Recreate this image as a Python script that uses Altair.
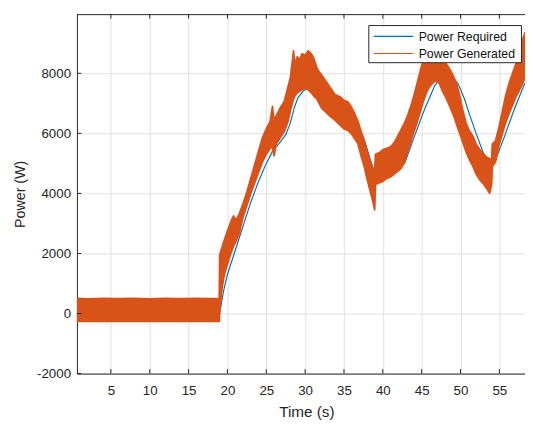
import altair as alt
import pandas as pd

# ---------------- data ----------------
# Power Required (blue line)
t_req = [0.63, 19.0, 19.5, 20.0, 21.0, 22.0, 23.0, 24.0, 25.0, 25.8, 26.6, 27.5, 28.1,
         28.6, 29.1, 29.8, 30.5, 31.3, 32.5, 34.0, 35.5, 36.8, 37.6, 38.3, 38.9, 39.4,
         40.0, 41.0, 42.0, 42.8, 44.0, 45.3, 46.7, 47.5, 48.2, 49.0, 49.7, 50.5, 51.2,
         52.0, 52.9, 53.5, 54.0, 54.5, 55.0, 55.6, 56.3, 57.0, 57.7, 58.3]
p_req = [0, 0, 750, 1300, 2100, 2900, 3700, 4400, 5000, 5400, 5650, 5950, 6350,
         6850, 7200, 7420, 7560, 7620, 7450, 7100, 6750, 6350, 5800, 5200, 4720, 4620,
         4650, 4750, 4850, 5000, 5850, 6750, 7600, 7850, 7900, 7850, 7650, 7150, 6600,
         6000, 5370, 5100, 4980, 5100, 5450, 5850, 6360, 6850, 7300, 7680]

# Power Generated (noisy band: upper and lower envelope)
t_gen = [0.63, 2, 4, 6, 8, 10, 12, 14, 16, 18, 18.95,
         19.0, 19.3, 19.6, 20.0, 20.5, 20.8, 21.1, 21.5, 22.0, 22.5, 23.0, 23.5, 24.0,
         24.5, 25.0, 25.5, 25.8, 26.0, 26.3, 26.8, 27.3, 27.8, 28.1, 28.35, 28.5, 28.7,
         29.0, 29.3, 29.6, 30.0, 30.4, 30.8, 31.1, 31.5,
         31.8, 32.1, 32.5, 32.9, 33.3, 33.8, 34.2, 34.6, 35.0, 35.5, 35.9, 36.3, 36.8,
         37.2, 37.6, 38.0, 38.4, 38.7, 38.95,
         39.05, 39.5, 40.0, 40.5, 41.0, 41.5, 42.0, 42.4, 42.8, 43.2, 43.6, 44.0, 44.4,
         44.8, 45.2, 45.6, 46.0, 46.5, 46.9, 47.3,
         47.7, 48.2, 48.7, 49.1, 49.5, 49.9, 50.3, 50.7, 51.1, 51.6, 52.0, 52.5, 53.0,
         53.4, 53.75, 54.0, 54.1,
         54.5, 54.9, 55.4, 55.8, 56.3, 56.7, 57.1, 57.5, 57.9, 58.3]
gen_hi = [500, 490, 505, 495, 500, 490, 505, 495, 500, 495, 500,
          1950, 2200, 2450, 2750, 3100, 3250, 3100, 3300, 3650, 4050, 4500, 4950, 5400,
          5850, 6150, 6400, 6900, 6400, 6600, 6850, 7050, 7550, 7850, 8400, 8750, 8300,
          8550, 8450, 8650, 8600, 8750, 8650, 8500, 8200,
          8050, 7950, 7800, 7650, 7500, 7300, 7250, 7200, 7100, 7050, 6900, 6700, 6400,
          6050, 5750, 5400, 5050, 4850, 4750,
          5300, 5350, 5450, 5500, 5550, 5700, 5950, 6150, 6350, 6600, 6900, 7250, 7650,
          8050, 8450, 8800, 8900, 8850, 8850, 8700,
          8550, 8300, 8100, 7900, 7650, 7250, 6750, 6350, 6100, 5900, 5650, 5450, 5300,
          5200, 5150, 5150, 5650,
          5750, 6150, 6750, 7250, 7700, 8000, 8300, 8700, 9050, 9350]
gen_lo = [-260, -255, -265, -258, -262, -255, -265, -258, -262, -258, -260,
          50, 850, 1300, 1650, 2050, 2250, 2400, 2650, 3200, 3600, 4000, 4350, 4700,
          5050, 5300, 5500, 5550, 5250, 5650, 5850, 6050, 6400, 6750, 7000, 7150, 7250,
          7350, 7400, 7450, 7500, 7450, 7350, 7250, 7150,
          7000, 6850, 6750, 6650, 6550, 6450, 6350, 6250, 6150, 6100, 6000, 5850, 5650,
          5250, 4900, 4450, 4050, 3750, 3450,
          4300, 4350, 4400, 4500, 4550, 4650, 4750, 4850, 5050, 5400, 5700, 6050, 6350,
          6700, 7050, 7350, 7550, 7700, 7750, 7650,
          7400, 7150, 6850, 6600, 6300, 6000, 5700, 5400, 5150, 4900, 4650, 4450, 4300,
          4150, 4000, 4300, 4900,
          5050, 5550, 6000, 6350, 6700, 6950, 7200, 7400, 7600, 7850]

x_ticks = [5, 10, 15, 20, 25, 30, 35, 40, 45, 50, 55]
y_ticks = [-2000, 0, 2000, 4000, 6000, 8000]
legend_labels = ["Power Required", "Power Generated"]
series_colors = ["#0072BD", "#D95319"]

# ---------------- chart ----------------
X_DOMAIN = [0.63, 58.3]
Y_DOMAIN = [-2000, 9970]
W, H = 455, 365
INK = "#262626"
FONT = "Liberation Sans"

xs = alt.Scale(domain=X_DOMAIN, nice=False, zero=False)
ys = alt.Scale(domain=Y_DOMAIN, nice=False, zero=False)

req_df = pd.DataFrame({"t": t_req, "p": p_req})
gen_df = pd.DataFrame({"t": t_gen, "hi": gen_hi, "lo": gen_lo})
xt_df = pd.DataFrame({"t": x_ticks})
yt_df = pd.DataFrame({"p": y_ticks})
leg_df = pd.DataFrame({"label": legend_labels, "color": series_colors})

x_axis = alt.Axis(values=x_ticks, title="Time (s)", ticks=False, grid=True,
                  labelPadding=10, titlePadding=8, titleX=233, titleFontSize=15.5,
                  labelExpr="datum.value + ''")
y_axis = alt.Axis(values=y_ticks, title="Power (W)", ticks=False, grid=True,
                  labelPadding=6.5, titlePadding=9, titleFontSize=14.5,
                  labelExpr="datum.value + ''")


def X(field):
    return alt.X(field, scale=xs, axis=x_axis)


def Y(field):
    return alt.Y(field, scale=ys, axis=y_axis)


req_line = alt.Chart(req_df).mark_line(color=series_colors[0], strokeWidth=1.2, clip=True).encode(
    x=X("t:Q"), y=Y("p:Q"))

gen_area = alt.Chart(gen_df).mark_area(
    color=series_colors[1], opacity=1, clip=True,
    stroke=series_colors[1], strokeWidth=1.8, strokeJoin="round"
).encode(x=X("t:Q"), y=Y("hi:Q"), y2="lo:Q")

tick_len = 4.5
x_ticks_bottom = alt.Chart(xt_df).mark_rule(color=INK, strokeWidth=1).encode(
    x=X("t:Q"), y=alt.value(H), y2=alt.value(H - tick_len))
x_ticks_top = alt.Chart(xt_df).mark_rule(color=INK, strokeWidth=1).encode(
    x=X("t:Q"), y=alt.value(0), y2=alt.value(tick_len))
y_ticks_left = alt.Chart(yt_df).mark_rule(color=INK, strokeWidth=1).encode(
    y=Y("p:Q"), x=alt.value(0), x2=alt.value(tick_len))

top_border = alt.Chart(leg_df.head(1)).mark_rule(color=INK, strokeWidth=1).encode(
    x=alt.value(0), x2=alt.value(W), y=alt.value(0.5))

# legend box (top right, inside the plot)
LX, LY, LW, LH = 296.4, 11.6, 155, 37.7
legend_box = alt.Chart(leg_df.head(1)).mark_rect(fill="white", stroke=INK, strokeWidth=1).encode(
    x=alt.value(LX), x2=alt.value(LX + LW), y=alt.value(LY), y2=alt.value(LY + LH))

legend_layers = [legend_box]
row_y = [LY + 11, LY + 28.4]
for i, lab in enumerate(legend_labels):
    one = leg_df.iloc[[i]]
    legend_layers.append(
        alt.Chart(one).mark_rule(color=series_colors[i], strokeWidth=1.2).encode(
            x=alt.value(LX + 5), x2=alt.value(LX + 45), y=alt.value(row_y[i]))
    )
    legend_layers.append(
        alt.Chart(one).mark_text(align="left", baseline="middle", font=FONT, fontSize=12.5,
                                 color="#111111").encode(
            x=alt.value(LX + 50.6), y=alt.value(row_y[i] + 0.5), text="label:N")
    )

chart = alt.layer(
    req_line, gen_area, x_ticks_bottom, x_ticks_top, y_ticks_left, top_border, *legend_layers
).properties(
    width=W, height=H,
    autosize=alt.AutoSizeParams(type="none"),
    padding={"left": 70, "top": 3, "right": 0, "bottom": 50},
    background="white",
).configure_view(
    stroke=None
).configure_axis(
    labelFont=FONT, titleFont=FONT, labelFontSize=13.5,
    labelColor=INK, titleColor=INK, titleFontWeight="normal",
    domainColor=INK, domainWidth=1, gridColor="#dfdfdf", gridWidth=1,
)

chart.save("out.html", embed_options={"renderer": "svg", "actions": False})
